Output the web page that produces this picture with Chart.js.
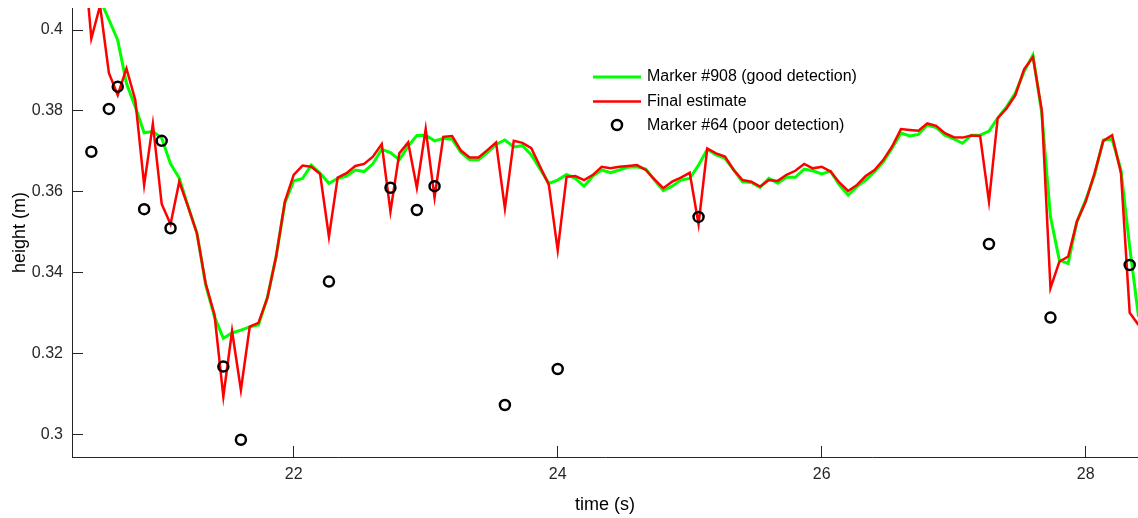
<!DOCTYPE html>
<html>
<head>
<meta charset="utf-8">
<script src="https://cdn.jsdelivr.net/npm/chart.js@4.4.1/dist/chart.umd.min.js"></script>
<style>
    html, body { margin: 0; padding: 0; background: #fff; }
    #wrap { width: 1138px; height: 518px; }
</style>
</head>
<body>
<div id="wrap"><canvas id="chart" width="1138" height="518"></canvas></div>
<script>
// sample times (s), 15 Hz
const time = [
    20.400, 20.467, 20.533, 20.600, 20.667, 20.733, 20.800, 20.867, 20.933,
    21.000, 21.067, 21.133, 21.200, 21.267, 21.333, 21.400, 21.467, 21.533, 21.600, 21.667, 21.733, 21.800, 21.867, 21.933,
    22.000, 22.067, 22.133, 22.200, 22.267, 22.333, 22.400, 22.467, 22.533, 22.600, 22.667, 22.733, 22.800, 22.867, 22.933,
    23.000, 23.067, 23.133, 23.200, 23.267, 23.333, 23.400, 23.467, 23.533, 23.600, 23.667, 23.733, 23.800, 23.867, 23.933,
    24.000, 24.067, 24.133, 24.200, 24.267, 24.333, 24.400, 24.467, 24.533, 24.600, 24.667, 24.733, 24.800, 24.867, 24.933,
    25.000, 25.067, 25.133, 25.200, 25.267, 25.333, 25.400, 25.467, 25.533, 25.600, 25.667, 25.733, 25.800, 25.867, 25.933,
    26.000, 26.067, 26.133, 26.200, 26.267, 26.333, 26.400, 26.467, 26.533, 26.600, 26.667, 26.733, 26.800, 26.867, 26.933,
    27.000, 27.067, 27.133, 27.200, 27.267, 27.333, 27.400, 27.467, 27.533, 27.600, 27.667, 27.733, 27.800, 27.867, 27.933,
    28.000, 28.067, 28.133, 28.200, 28.267, 28.333, 28.400
]

// Marker #908 (good detection)
const marker908 = [
    0.4200, 0.4120, 0.4075, 0.4026, 0.3975, 0.3868, 0.3810, 0.3746, 0.3749,
    0.3733, 0.3669, 0.3634, 0.3564, 0.3498, 0.3370, 0.3291, 0.3238, 0.3251, 0.3258, 0.3266, 0.3271, 0.3338, 0.3441, 0.3572,
    0.3627, 0.3633, 0.3666, 0.3646, 0.3621, 0.3633, 0.3639, 0.3654, 0.3650, 0.3669, 0.3705, 0.3697, 0.3679, 0.3713, 0.3739,
    0.3740, 0.3726, 0.3732, 0.3730, 0.3697, 0.3679, 0.3679, 0.3697, 0.3717, 0.3728, 0.3711, 0.3714, 0.3691, 0.3656, 0.3621,
    0.3629, 0.3643, 0.3633, 0.3614, 0.3639, 0.3654, 0.3647, 0.3654, 0.3661, 0.3662, 0.3656, 0.3629, 0.3603, 0.3614, 0.3629,
    0.3633, 0.3666, 0.3705, 0.3691, 0.3683, 0.3654, 0.3625, 0.3623, 0.3611, 0.3633, 0.3621, 0.3636, 0.3636, 0.3656, 0.3652,
    0.3644, 0.3651, 0.3617, 0.3592, 0.3613, 0.3629, 0.3650, 0.3674, 0.3708, 0.3745, 0.3738, 0.3742, 0.3765, 0.3759, 0.3740,
    0.3731, 0.3720, 0.3740, 0.3740, 0.3750, 0.3782, 0.3810, 0.3844, 0.3897, 0.3938, 0.3794, 0.3538, 0.3431, 0.3423, 0.3526,
    0.3580, 0.3642, 0.3728, 0.3730, 0.3654, 0.3464, 0.3291
]

// Final estimate
const finalEstimate = [
    0.4230, 0.3979, 0.4060, 0.3894, 0.3839, 0.3905, 0.3827, 0.3617, 0.3768,
    0.3570, 0.3520, 0.3625, 0.3563, 0.3497, 0.3374, 0.3296, 0.3094, 0.3256, 0.3110, 0.3267, 0.3276, 0.3337, 0.3440, 0.3576,
    0.3642, 0.3665, 0.3662, 0.3644, 0.3489, 0.3635, 0.3646, 0.3664, 0.3669, 0.3687, 0.3718, 0.3551, 0.3695, 0.3722, 0.3610,
    0.3755, 0.3586, 0.3736, 0.3738, 0.3702, 0.3685, 0.3685, 0.3703, 0.3722, 0.3559, 0.3726, 0.3721, 0.3708, 0.3662, 0.3617,
    0.3456, 0.3637, 0.3639, 0.3629, 0.3642, 0.3662, 0.3658, 0.3662, 0.3664, 0.3666, 0.3654, 0.3631, 0.3609, 0.3625, 0.3635,
    0.3647, 0.3520, 0.3707, 0.3695, 0.3687, 0.3654, 0.3629, 0.3625, 0.3613, 0.3629, 0.3627, 0.3642, 0.3652, 0.3669, 0.3658,
    0.3662, 0.3650, 0.3623, 0.3602, 0.3617, 0.3639, 0.3654, 0.3679, 0.3712, 0.3755, 0.3753, 0.3751, 0.3769, 0.3763, 0.3745,
    0.3735, 0.3734, 0.3739, 0.3738, 0.3576, 0.3782, 0.3806, 0.3839, 0.3903, 0.3933, 0.3802, 0.3362, 0.3427, 0.3440, 0.3526,
    0.3576, 0.3646, 0.3726, 0.3740, 0.3646, 0.3301, 0.3271
]

// Marker #64 (poor detection), only where it was seen
const marker64Time = [
    20.467, 20.600, 20.667, 20.867, 21.000, 21.067, 21.467, 21.600, 22.267,
    22.733, 22.933, 23.067, 23.600, 24.000, 25.067, 27.267, 27.733, 28.333
]
const marker64Height = [
    0.3699, 0.3805, 0.3860, 0.3557, 0.3726, 0.3510, 0.3168, 0.2987, 0.3378,
    0.3610, 0.3555, 0.3614, 0.3073, 0.3162, 0.3538, 0.3471, 0.3289, 0.3419
]

const xTicks = [22, 24, 26, 28]
const yTicks = [0.3, 0.32, 0.34, 0.36, 0.38, 0.4]

const seriesLabels = ['Marker #908 (good detection)', 'Final estimate', 'Marker #64 (poor detection)']

const AXIS = '#262626'
const FONT = '"Liberation Sans", Arial, Helvetica, sans-serif'

Chart.defaults.font.family = FONT
Chart.defaults.color = AXIS

function points(xs, ys) {
    return xs.map((x, i) => ({ x: x, y: ys[i] }))
}

// legend sits inside the plot, no frame
const innerLegend = {
    id: 'innerLegend',
    afterDatasetsDraw(chart) {
        const ctx = chart.ctx
        ctx.save()
        ctx.font = '16px ' + FONT
        ctx.textBaseline = 'middle'
        ctx.textAlign = 'left'
        chart.data.datasets.forEach((ds, i) => {
            const y = 77 + i * 24.5
            ctx.beginPath()
            if (ds.showLine === false) {
                ctx.arc(617, y - 1, 5, 0, Math.PI * 2)
                ctx.lineWidth = ds.pointBorderWidth
                ctx.strokeStyle = ds.pointBorderColor
            } else {
                ctx.moveTo(593, y)
                ctx.lineTo(641, y)
                ctx.lineWidth = ds.borderWidth
                ctx.strokeStyle = ds.borderColor
            }
            ctx.stroke()
            ctx.fillStyle = '#000'
            ctx.fillText(ds.label, 647, y)
        })
        ctx.restore()
    }
}

new Chart(document.getElementById('chart'), {
    type: 'line',
    data: {
        datasets: [
            {
                label: seriesLabels[0],
                data: points(time, marker908),
                borderColor: '#00ff00',
                borderWidth: 3,
                pointRadius: 0,
                tension: 0,
                order: 3
            },
            {
                label: seriesLabels[1],
                data: points(time, finalEstimate),
                borderColor: '#ff0000',
                borderWidth: 2.5,
                pointRadius: 0,
                tension: 0,
                order: 2
            },
            {
                label: seriesLabels[2],
                data: points(marker64Time, marker64Height),
                showLine: false,
                pointStyle: 'circle',
                pointRadius: 5,
                pointBorderWidth: 2.5,
                pointBorderColor: '#000',
                pointBackgroundColor: 'rgba(0,0,0,0)',
                order: 1
            }
        ]
    },
    options: {
        responsive: false,
        animation: false,
        layout: { autoPadding: false, padding: { top: 8, right: 0, bottom: 0, left: 0 } },
        plugins: {
            legend: { display: false },
            tooltip: { enabled: false }
        },
        scales: {
            x: {
                type: 'linear',
                min: 20.3205,
                max: 28.396,
                afterBuildTicks: s => { s.ticks = xTicks.map(v => ({ value: v })) },
                afterFit: s => {
                    s.height = 61
                    s.paddingLeft = 0
                    s.paddingRight = 0
                },
                grid: { drawOnChartArea: false, drawTicks: true, tickLength: -11, tickColor: AXIS, tickWidth: 1 },
                border: { display: true, color: AXIS, width: 1 },
                ticks: { padding: 19, color: AXIS, font: { size: 16 }, maxRotation: 0, autoSkip: false, callback: v => String(v) },
                title: { display: true, text: 'time (s)', color: '#000', font: { size: 18 }, padding: { top: 0, bottom: 2 } }
            },
            y: {
                type: 'linear',
                min: 0.29444,
                max: 0.40544,
                afterBuildTicks: s => { s.ticks = yTicks.map(v => ({ value: v })) },
                afterFit: s => {
                    s.width = 72
                    s.paddingTop = 0
                    s.paddingBottom = 0
                },
                grid: { drawOnChartArea: false, drawTicks: true, tickLength: -11, tickColor: AXIS, tickWidth: 1 },
                border: { display: true, color: AXIS, width: 1 },
                ticks: { padding: 20, color: AXIS, font: { size: 16 }, autoSkip: false, callback: v => String(+v.toFixed(2)) },
                title: { display: true, text: 'height (m)', color: '#000', font: { size: 18 }, padding: { top: 9, bottom: 0 } }
            }
        }
    },
    plugins: [innerLegend]
})
</script>
</body>
</html>
